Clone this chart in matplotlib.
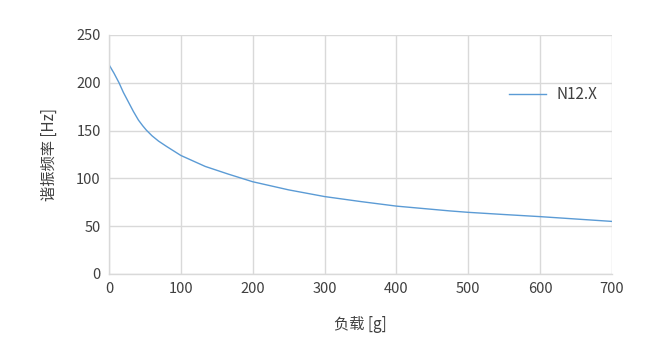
import numpy as np
import matplotlib.pyplot as plt

plt.rcParams['font.family'] = ['Noto Sans CJK SC', 'DejaVu Sans']

# load [g] vs resonance frequency [Hz]
load = [0, 7, 14, 20, 27, 34, 41, 47, 52, 60, 69, 80, 100, 134, 166, 200,
        250, 300, 350, 400, 474, 500, 550, 600, 650, 700]
freq = [219, 210, 200, 190, 180, 170, 161, 155, 150.5, 144.5, 139, 133.5, 124, 112.5, 104.5, 96.5,
        88, 81, 75.8, 71, 66, 64.5, 62.2, 60, 57.5, 55]
series_name = "N12.X"

fig = plt.figure(figsize=(6.71, 3.51), dpi=100)
ax = fig.add_axes([0.1624, 0.2194, 0.7496, 0.6809])

ax.plot(load, freq, color="#5b9bd5", lw=1.0, label=series_name)

ax.set_xlim(0, 700)
ax.set_ylim(0, 250)
ax.set_xticks(np.arange(0, 701, 100))
ax.set_yticks(np.arange(0, 251, 50))
ax.grid(True, color="#d9d9d9", lw=1.0)
ax.set_axisbelow(True)
for s in ["top", "right"]:
    ax.spines[s].set_visible(False)
for s in ["left", "bottom"]:
    ax.spines[s].set_color("#d9d9d9")
    ax.spines[s].set_linewidth(1.0)
ax.tick_params(length=0, labelsize=10.5, colors="#404040", pad=6)

ax.set_xlabel("负载 [g]", fontsize=11, color="#404040", labelpad=14)
ax.set_ylabel("谐振频率 [Hz]", fontsize=11, color="#404040", labelpad=13)

leg = ax.legend(loc="center left", bbox_to_anchor=(0.795, 0.749), frameon=False,
                borderpad=0, borderaxespad=0, fontsize=11, handlelength=2.45,
                handletextpad=0.7, labelcolor="#404040")

fig.savefig("out.png", dpi=100)
